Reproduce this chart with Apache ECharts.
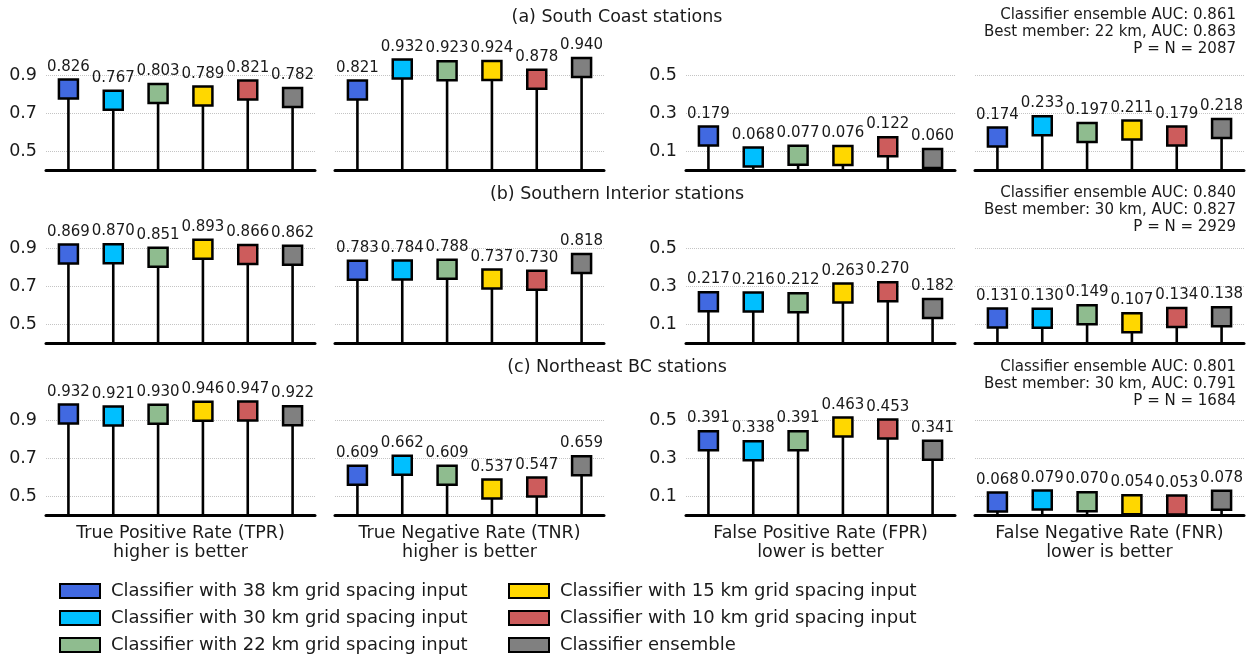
<!DOCTYPE html>
<html>
<head>
<meta charset="utf-8">
<script src="https://cdn.jsdelivr.net/npm/echarts@6/dist/echarts.min.js"></script>
<style>
  html, body { margin: 0; padding: 0; background: #fff; }
  #chart { width: 1252px; height: 655px; }
</style>
</head>
<body>
<div id="chart"></div>
<script>
// Classifier members (one stem per member in every panel)
const categories = ['38 km', '30 km', '22 km', '15 km', '10 km', 'Ensemble'];
const seriesNames = [
  'Classifier with 38 km grid spacing input',
  'Classifier with 30 km grid spacing input',
  'Classifier with 22 km grid spacing input',
  'Classifier with 15 km grid spacing input',
  'Classifier with 10 km grid spacing input',
  'Classifier ensemble'
];
const colors = ['#4169E1', '#00BFFF', '#8FBC8F', '#FFD700', '#CD5C5C', '#808080'];

// Station groups (rows)
const regionTitles = ['(a) South Coast stations', '(b) Southern Interior stations', '(c) Northeast BC stations'];
const aucNotes = [
  'Classifier ensemble AUC: 0.861\nBest member: 22 km, AUC: 0.863\nP = N = 2087',
  'Classifier ensemble AUC: 0.840\nBest member: 30 km, AUC: 0.827\nP = N = 2929',
  'Classifier ensemble AUC: 0.801\nBest member: 30 km, AUC: 0.791\nP = N = 1684'
];

// Metrics (columns)
const metricNames = [
  'True Positive Rate (TPR)\nhigher is better',
  'True Negative Rate (TNR)\nhigher is better',
  'False Positive Rate (FPR)\nlower is better',
  'False Negative Rate (FNR)\nlower is better'
];
const highRange = [0.4, 1.0];
const lowRange = [0.0, 0.6];
const highTicks = [0.5, 0.7, 0.9];
const lowTicks = [0.1, 0.3, 0.5];

// Scores per region
const southCoastTPR = [0.826, 0.767, 0.803, 0.789, 0.821, 0.782];
const southCoastTNR = [0.821, 0.932, 0.923, 0.924, 0.878, 0.940];
const southCoastFPR = [0.179, 0.068, 0.077, 0.076, 0.122, 0.060];
const southCoastFNR = [0.174, 0.233, 0.197, 0.211, 0.179, 0.218];

const southInteriorTPR = [0.869, 0.870, 0.851, 0.893, 0.866, 0.862];
const southInteriorTNR = [0.783, 0.784, 0.788, 0.737, 0.730, 0.818];
const southInteriorFPR = [0.217, 0.216, 0.212, 0.263, 0.270, 0.182];
const southInteriorFNR = [0.131, 0.130, 0.149, 0.107, 0.134, 0.138];

const northeastTPR = [0.932, 0.921, 0.930, 0.946, 0.947, 0.922];
const northeastTNR = [0.609, 0.662, 0.609, 0.537, 0.547, 0.659];
const northeastFPR = [0.391, 0.338, 0.391, 0.463, 0.453, 0.341];
const northeastFNR = [0.068, 0.079, 0.070, 0.054, 0.053, 0.078];

const table = [
  [southCoastTPR, southCoastTNR, southCoastFPR, southCoastFNR],
  [southInteriorTPR, southInteriorTNR, southInteriorFPR, southInteriorFNR],
  [northeastTPR, northeastTNR, northeastFPR, northeastFNR]
];

// Layout
const FONT = '"DejaVu Sans", sans-serif';
const TEXT = '#1a1a1a';
const panelLefts = [46, 335, 686, 975];
const panelWidth = 269;
const rowTops = [56, 229, 401];
const panelHeight = 114;
const titleY = [17, 194, 367];
const noteY = [15, 193, 367];

const grid = [], xAxis = [], yAxis = [], series = [], graphic = [];

for (let r = 0; r < 3; r++) {
  for (let c = 0; c < 4; c++) {
    const g = r * 4 + c;
    const high = c < 2;
    const range = high ? highRange : lowRange;
    const ticks = high ? highTicks : lowTicks;
    const showLabels = c === 0 || c === 2;

    grid.push({ left: panelLefts[c], top: rowTops[r], width: panelWidth, height: panelHeight });

    xAxis.push({
      type: 'category', gridIndex: g, data: categories, boundaryGap: true,
      axisLine: { onZero: false, lineStyle: { color: '#000', width: 3 } },
      axisTick: { show: false }, axisLabel: { show: false }, splitLine: { show: false },
      name: r === 2 ? metricNames[c] : '',
      nameLocation: 'middle', nameGap: 9,
      nameTextStyle: { fontFamily: FONT, fontSize: 17.5, color: TEXT, lineHeight: 19, verticalAlign: 'top' }
    });

    yAxis.push({
      type: 'value', gridIndex: g, min: range[0], max: range[1],
      axisLine: { show: false },
      axisTick: { show: false, customValues: ticks },
      axisLabel: {
        show: showLabels, customValues: ticks, margin: 9,
        formatter: v => v.toFixed(1),
        fontFamily: FONT, fontSize: 17.5, color: TEXT
      },
      splitLine: { show: true, lineStyle: { type: 'dotted', color: '#c4c4c4', width: 1 } }
    });

    const values = table[r][c];
    const base = range[0];

    // stems from the bottom of the axis up to each score
    series.push({
      type: 'custom', xAxisIndex: g, yAxisIndex: g, z: 2, silent: true,
      data: values.map((v, i) => [i, v]),
      renderItem: (params, api) => {
        const p0 = api.coord([api.value(0), base]);
        const p1 = api.coord([api.value(0), api.value(1)]);
        return {
          type: 'line',
          shape: { x1: p0[0], y1: p0[1], x2: p1[0], y2: p1[1] },
          style: { stroke: '#000', lineWidth: 2.6 }
        };
      }
    });

    // square markers with value labels
    values.forEach((v, m) => {
      series.push({
        type: 'scatter', name: seriesNames[m], xAxisIndex: g, yAxisIndex: g, z: 3,
        symbol: 'rect', symbolSize: 19,
        itemStyle: { color: colors[m], borderColor: '#000', borderWidth: 2.5, opacity: 1 },
        label: {
          show: true, position: 'top', distance: 4,
          formatter: p => p.value[1].toFixed(3),
          fontFamily: FONT, fontSize: 15, color: TEXT
        },
        emphasis: { disabled: true },
        data: [[m, v]]
      });
    });
  }

  graphic.push({
    type: 'text', x: 617, y: titleY[r],
    style: { text: regionTitles[r], font: '17.5px ' + FONT, fill: TEXT, textAlign: 'center', textVerticalAlign: 'middle' }
  });
  graphic.push({
    type: 'text', x: 1236, y: noteY[r] - 8.5,
    style: { text: aucNotes[r], font: '15px ' + FONT, fill: TEXT, textAlign: 'right', textVerticalAlign: 'top', lineHeight: 17 }
  });
}

const legendCommon = {
  orient: 'vertical', top: 576, height: 90, itemWidth: 40, itemHeight: 14, itemGap: 7,
  icon: 'rect', selectedMode: false,
  itemStyle: { borderColor: '#000', borderWidth: 2 },
  textStyle: { fontFamily: FONT, fontSize: 18, color: TEXT, lineHeight: 20, padding: [0, 0, 0, 6] }
};

const option = {
  animation: false,
  backgroundColor: '#fff',
  grid, xAxis, yAxis, series, graphic,
  legend: [
    Object.assign({ left: 54, data: seriesNames.slice(0, 3) }, legendCommon),
    Object.assign({ left: 503, data: seriesNames.slice(3, 6) }, legendCommon)
  ]
};

const chart = echarts.init(document.getElementById('chart'), null, { renderer: 'canvas' });
chart.setOption(option);
</script>
</body>
</html>
